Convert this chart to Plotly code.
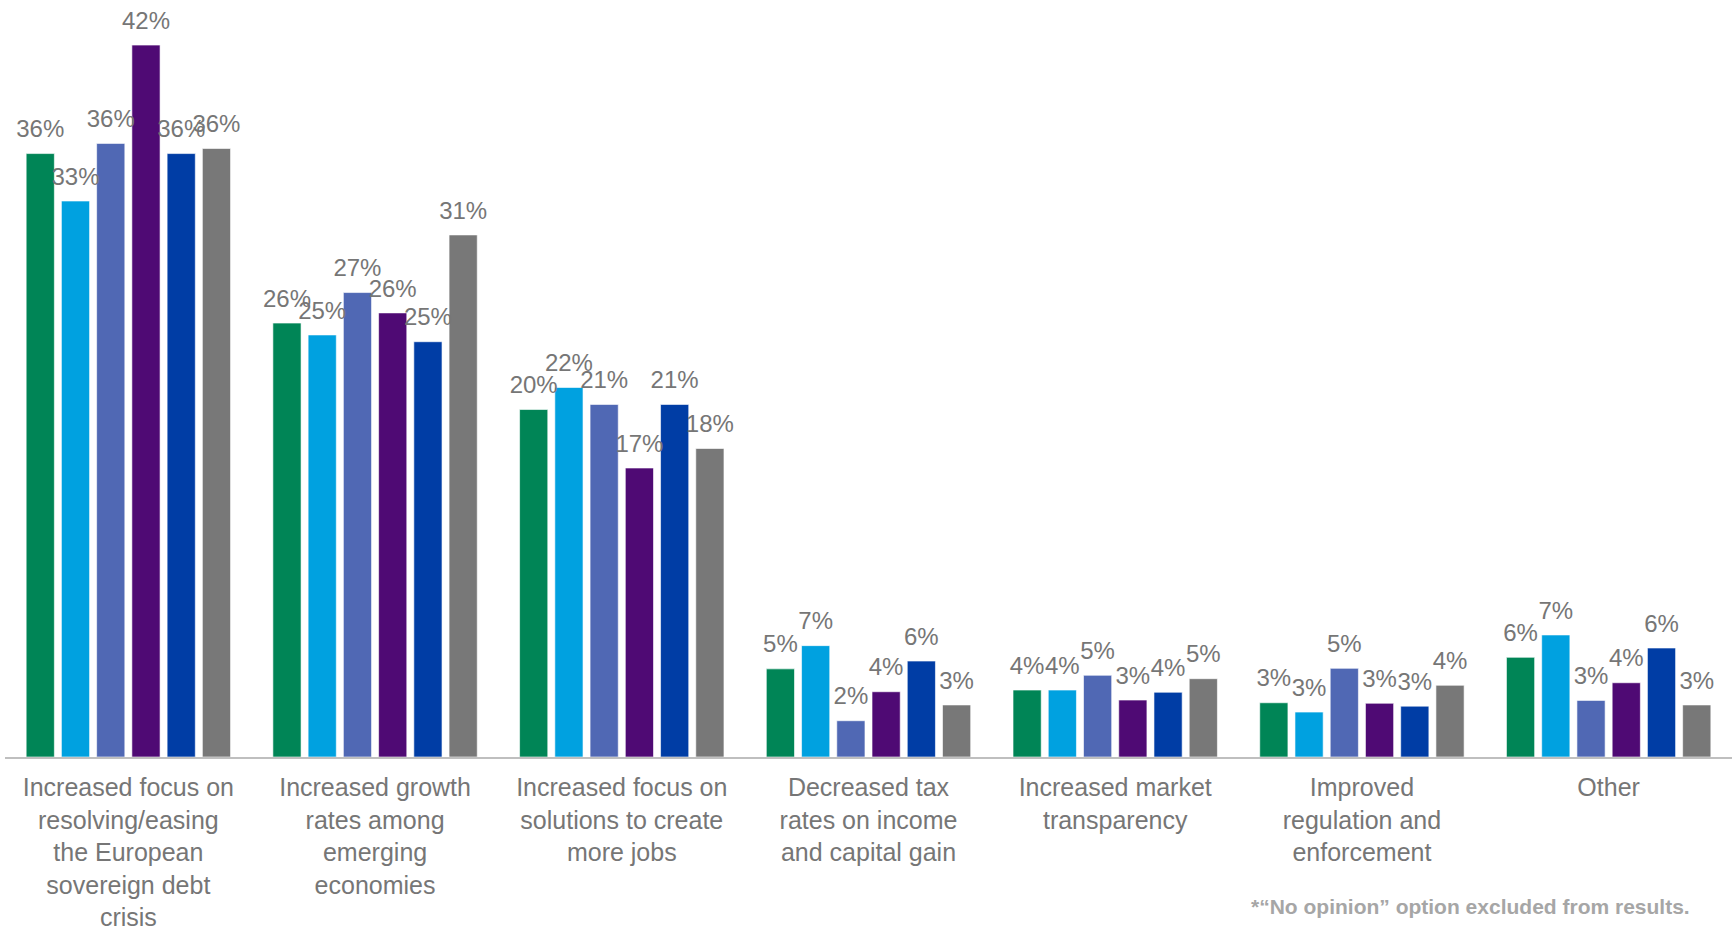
import plotly.graph_objects as go

categories = [
    "Increased focus on<br>resolving/easing<br>the European<br>sovereign debt<br>crisis",
    "Increased growth<br>rates among<br>emerging<br>economies",
    "Increased focus on<br>solutions to create<br>more jobs",
    "Decreased tax<br>rates on income<br>and capital gain",
    "Increased market<br>transparency",
    "Improved<br>regulation and<br>enforcement",
    "Other",
]

series_names = ["Series 1", "Series 2", "Series 3", "Series 4", "Series 5", "Series 6"]
series_colors = ["#008556", "#00A1E0", "#5068B4", "#4F0A74", "#003DA5", "#787878"]

s1 = [35.6, 25.6, 20.5, 5.2, 3.95, 3.2, 5.88]
s2 = [32.8, 24.9, 21.8, 6.57, 3.95, 2.65, 7.2]
s3 = [36.2, 27.4, 20.8, 2.14, 4.82, 5.23, 3.34]
s4 = [42.0, 26.2, 17.05, 3.85, 3.36, 3.17, 4.38]
s5 = [35.6, 24.5, 20.8, 5.66, 3.82, 3.0, 6.43]
s6 = [35.9, 30.8, 18.2, 3.07, 4.62, 4.23, 3.07]
series_values = [s1, s2, s3, s4, s5, s6]

l1 = ["36%", "26%", "20%", "5%", "4%", "3%", "6%"]
l2 = ["33%", "25%", "22%", "7%", "4%", "3%", "7%"]
l3 = ["36%", "27%", "21%", "2%", "5%", "5%", "3%"]
l4 = ["42%", "26%", "17%", "4%", "3%", "3%", "4%"]
l5 = ["36%", "25%", "21%", "6%", "4%", "3%", "6%"]
l6 = ["36%", "31%", "18%", "3%", "5%", "4%", "3%"]
series_labels = [l1, l2, l3, l4, l5, l6]

footnote = "*\u201cNo opinion\u201d option excluded from results."

FONT = "Arial, Liberation Sans, sans-serif"
TEXT_GREY = "#767676"

fig = go.Figure()
for i, (name, vals, col) in enumerate(zip(series_names, series_values, series_colors)):
    fig.add_trace(go.Bar(
        x=categories, y=vals, name=name,
        marker=dict(color=col, line=dict(color="rgba(255,255,255,0.6)", width=1)),
        offsetgroup=str(i), hoverinfo="skip",
    ))
for i, (name, vals, labs) in enumerate(zip(series_names, series_values, series_labels)):
    fig.add_trace(go.Scatter(
        x=categories, y=vals, text=labs, mode="markers+text",
        textposition="top center",
        textfont=dict(family=FONT, size=24, color=TEXT_GREY),
        marker=dict(size=15, opacity=0),
        offsetgroup=str(i), showlegend=False, hoverinfo="skip", cliponaxis=False,
    ))

fig.update_layout(
    width=1733, height=933,
    margin=dict(l=5, r=1, t=20, b=176),
    paper_bgcolor="white", plot_bgcolor="white",
    barmode="group", bargap=0.143, bargroupgap=0.2,
    scattermode="group", scattergap=0.143,
    showlegend=False,
    font=dict(family=FONT, color=TEXT_GREY),
    xaxis=dict(
        showline=True, linecolor="#BFBFBF", linewidth=2,
        showgrid=False, ticks="", tickfont=dict(family=FONT, size=25, color=TEXT_GREY),
        ticklabelstandoff=7, automargin=False,
    ),
    yaxis=dict(range=[0, 43.48], visible=False, showgrid=False, zeroline=False,
               automargin=False),
    annotations=[dict(
        text="<b>" + footnote + "</b>", xref="paper", yref="paper",
        x=0.9768, y=-0.2035, xanchor="right", yanchor="middle", showarrow=False,
        font=dict(family=FONT, size=21, color="#A6A6A6"),
    )],
)

fig.write_html("out.html")
